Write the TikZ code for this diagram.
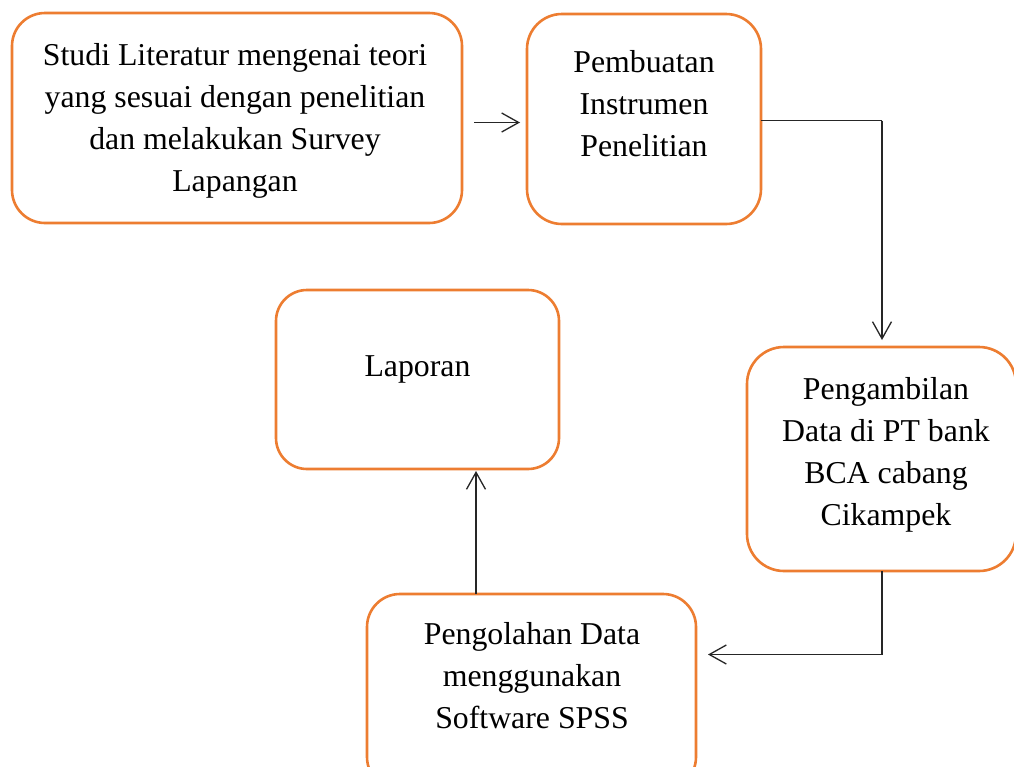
\documentclass[tikz,border=0pt]{standalone}
\usepackage{fontspec}
\setmainfont{Liberation Serif}
\usetikzlibrary{arrows.meta}
\definecolor{boxorange}{HTML}{ED7D31}
\definecolor{linegray}{HTML}{262626}
\begin{document}
\begin{tikzpicture}[x=1pt,y=-1pt,
  box/.style={draw=boxorange,line width=2.6pt,fill=white,inner sep=0pt,outer sep=0pt},
  label/.style={align=center,anchor=base,inner sep=0pt,font=\fontsize{31.8}{42}\selectfont},
  conn/.style={draw=linegray,line width=1.3pt,-{Straight Barb[length=17pt,width=19pt,line width=1.3pt]}},
  plain/.style={draw=linegray,line width=1.3pt}]
\useasboundingbox (0,0) rectangle (1014,766);
\clip (0,0) rectangle (1014,766);
\fill[white] (0,0) rectangle (1014,766);
% boxes
\node[box,minimum width=450pt,minimum height=210pt,rounded corners=33pt] (b1) at (237,118) {};
\node[box,minimum width=234pt,minimum height=210pt,rounded corners=35pt] (b2) at (644,119) {};
\node[box,minimum width=269pt,minimum height=224pt,rounded corners=37pt] (b3) at (881.5,459) {};
\node[box,minimum width=283pt,minimum height=179pt,rounded corners=31pt] (b4) at (417.5,379.5) {};
\node[box,minimum width=329pt,minimum height=196pt,rounded corners=33pt] (b5) at (531.5,692) {};
% texts (anchor = baseline of the last line)
\node[label] (t1) at (235,191.5) {Studi Literatur mengenai teori\\yang sesuai dengan penelitian\\dan melakukan Survey\\Lapangan};
\node[label] (t2) at (644,156.5) {Pembuatan\\Instrumen\\Penelitian};
\node[label] (t3) at (886,525.5) {Pengambilan\\Data di PT bank\\BCA cabang\\Cikampek};
\node[label] (t4) at (417.5,376) {Laporan};
\node[label] (t5) at (532,728.5) {Pengolahan Data\\menggunakan\\Software SPSS};
% connectors
\coordinate (a1s) at (474,122.5);
\coordinate (a1e) at (520,122.5);
\draw[conn] (a1s) -- (a1e);
\coordinate (c2) at (882,120.5);
\coordinate (a2e) at (882,340);
\draw[plain] (b2.east |- c2) -- (c2);
\draw[conn] (c2) -- (a2e);
\coordinate (c3) at (882,654.5);
\coordinate (a3e) at (708,654.5);
\draw[plain] (b3.south -| c3) -- (c3);
\draw[conn] (c3) -- (a3e);
\coordinate (c4) at (476,594);
\coordinate (a4e) at (476,471);
\draw[conn] (b5.north -| c4) -- (a4e);
\end{tikzpicture}
\end{document}
